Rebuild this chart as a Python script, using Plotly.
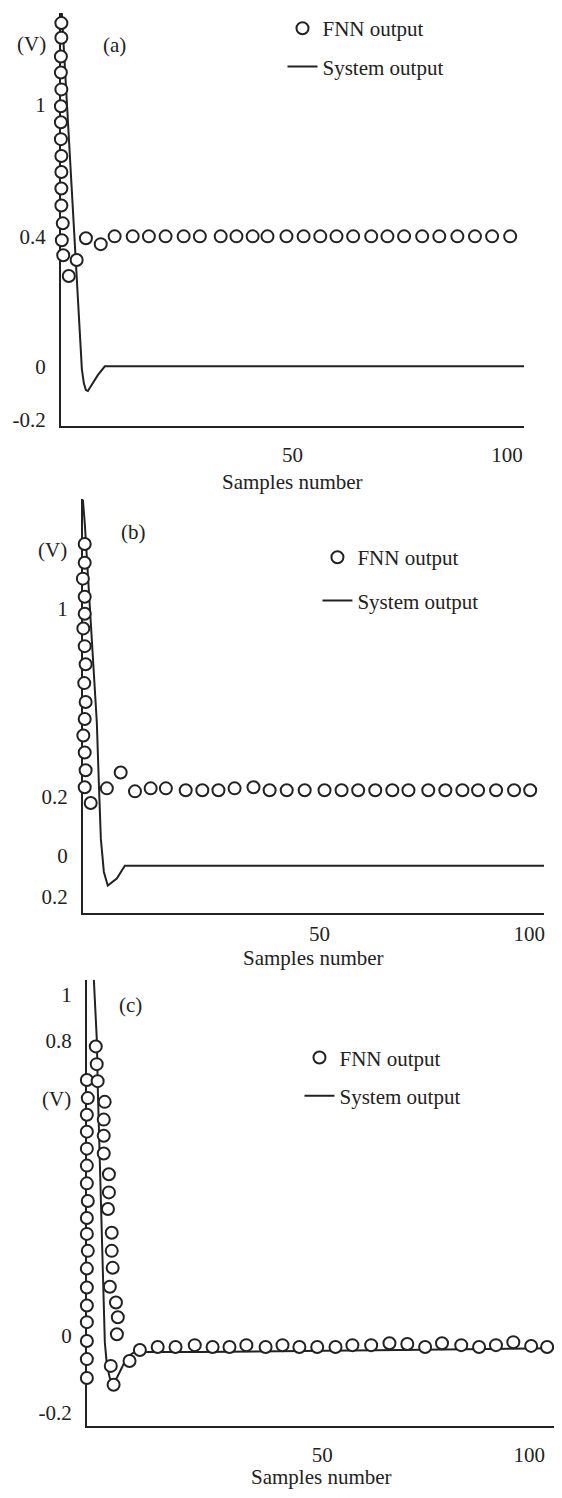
import plotly.graph_objects as go

# ---------------- data ----------------
# Panel (a)
a_fnn_x = [0.1, 0.1, 0, 0, 0.1, 0, 0, 0, 0.1, 0.1, 0.1, 0.1, 0.4, 0.2, 0.5,
           1.7, 3.4, 5.4, 8.6, 11.6,
           15.5, 19.0, 22.6, 26.5, 30.0, 34.5, 37.9, 41.4, 44.6, 48.7, 52.4, 56.0,
           59.5, 63.1, 67.0, 70.5, 74.1, 78.0, 81.7, 85.6, 89.4, 93.1, 97.0]
a_fnn_y = [1.056, 1.011, 0.953, 0.904, 0.852, 0.800, 0.751, 0.699, 0.647, 0.598,
           0.547, 0.495, 0.440, 0.388, 0.342,
           0.278, 0.327, 0.394, 0.376, 0.4,
           0.4, 0.4, 0.4, 0.4, 0.4, 0.4, 0.4, 0.4, 0.4, 0.4, 0.4, 0.4,
           0.4, 0.4, 0.4, 0.4, 0.4, 0.4, 0.4, 0.4, 0.4, 0.4, 0.4]
a_sys_x = [0.2, 4.53, 4.96, 5.39, 5.82, 6.47, 7.97, 9.48, 100]
a_sys_y = [1.087, -0.009, -0.052, -0.073, -0.076, -0.061, -0.027, 0.0, 0.0]
a_ytick_vals = [0.806, 0.4, 0.0, -0.165]
a_ytick_text = ["1", "0.4", "0", "-0.2"]
a_xtick_vals = [50, 96.3]
a_xtick_text = ["50", "100"]

# Panel (b)
b_fnn_x = [0.4, 0.4, 0, 0.4, 0.4, 0.1, 0.4, 0.6, 0.3, 0.6, 0.4, 0.1, 0.4, 0.6, 0.4,
           1.7, 5.2, 8.2, 11.3,
           14.7, 18.0, 22.3, 25.9, 29.4, 32.9, 37.0, 40.5, 44.2, 48.1, 52.4, 56.1,
           59.7, 63.4, 67.1, 70.6, 74.9, 78.6, 82.3, 85.7, 89.6, 93.5, 97.0, 100.4]
b_fnn_y = [0.853, 0.803, 0.761, 0.713, 0.668, 0.629, 0.582, 0.534, 0.484, 0.434,
           0.389, 0.345, 0.300, 0.253, 0.208,
           0.166, 0.205, 0.247, 0.197,
           0.205, 0.205, 0.2, 0.2, 0.2, 0.205, 0.208, 0.2, 0.2, 0.2, 0.2, 0.2,
           0.2, 0.2, 0.2, 0.2, 0.2, 0.2, 0.2, 0.2, 0.2, 0.2, 0.2, 0.2]
b_sys_x = [0, 0.43, 1.3, 2.16, 3.03, 3.46, 3.9, 4.55, 5.4, 7.36, 9.1, 100]
b_sys_y = [0.971, 0.905, 0.729, 0.553, 0.379, 0.221, 0.071, -0.016, -0.053, -0.034, 0.0, 0.0]
b_ytick_vals = [0.682, 0.182, 0.026, -0.082]
b_ytick_text = ["1", "0.2", "0", "0.2"]
b_xtick_vals = [51.3, 96.8]
b_xtick_text = ["50", "100"]

# Panel (c)
c_fnn_x = [0, 0.2, 0, 0, 0, 0, 0, 0.2, 0, 0, 0.2, 0, 0, 0, 0, 0, 0, 0,
           1.9, 2.1, 2.3, 3.8, 3.6, 3.6, 3.6, 4.7, 4.7, 4.5, 5.3, 5.3, 5.5, 4.9,
           6.2, 6.6, 6.4, 5.1, 5.7, 9.1, 11.3,
           15.1, 18.9, 23.0, 26.8, 30.4, 34.0, 38.1, 41.7, 45.3, 49.1, 53.0, 56.6,
           60.6, 64.5, 68.3, 72.1, 75.7, 79.8, 83.6, 87.2, 90.9, 94.7, 98.1]
c_fnn_y = [0.716, 0.668, 0.624, 0.579, 0.534, 0.489, 0.442, 0.395, 0.350, 0.308,
           0.263, 0.216, 0.166, 0.118, 0.074, 0.024, -0.024, -0.074,
           0.805, 0.758, 0.713, 0.658, 0.611, 0.568, 0.521, 0.466, 0.418, 0.374,
           0.311, 0.263, 0.218, 0.168, 0.126, 0.087, 0.042, -0.042, -0.092, -0.029, 0.0,
           0.008, 0.008, 0.013, 0.008, 0.008, 0.013, 0.008, 0.013, 0.008, 0.008, 0.008,
           0.013, 0.013, 0.018, 0.016, 0.008, 0.018, 0.013, 0.008, 0.013, 0.021, 0.011, 0.008]
c_sys_x = [1.49, 2.13, 2.34, 2.77, 3.19, 3.40, 3.83, 4.26, 4.89, 5.53, 6.38, 7.45,
           8.51, 10.21, 24.04, 66.6, 100]
c_sys_y = [0.982, 0.821, 0.689, 0.513, 0.337, 0.250, 0.021, -0.039, -0.074, -0.087,
           -0.074, -0.047, -0.018, -0.005, -0.005, 0.0, 0.005]
c_ytick_vals = [0.942, 0.821, 0.039, -0.166]
c_ytick_text = ["1", "0.8", "0", "-0.2"]
c_xtick_vals = [50.2, 94.3]
c_xtick_text = ["50", "100"]

panel_labels = ["(a)", "(b)", "(c)"]
series_names = ["FNN output", "System output"]
x_title = "Samples number"
y_unit = "(V)"

# ---------------- styling / layout ----------------
PAGE_OFF = 8            # default body margin of the html page
W, H = 562 - PAGE_OFF, 1498 - PAGE_OFF
INK = "#222222"
FONT = "Liberation Serif"
FS = 21


def px_x(p):
    return (p - PAGE_OFF) / W


def px_y(p):
    return 1 - (p - PAGE_OFF) / H


panels = [
    dict(fx=a_fnn_x, fy=a_fnn_y, sx=a_sys_x, sy=a_sys_y,
         ytv=a_ytick_vals, ytt=a_ytick_text, xtv=a_xtick_vals, xtt=a_xtick_text,
         xdom=(61, 525), ydom=(424, 8), yrange=(-0.1832, 1.087),
         vpos=(32, 39), lpos=(115, 40), title_y=480, xstand=9,
         legend=(283, 3, 8)),
    dict(fx=b_fnn_x, fy=b_fnn_y, sx=b_sys_x, sy=b_sys_y,
         ytv=b_ytick_vals, ytt=b_ytick_text, xtv=b_xtick_vals, xtt=b_xtick_text,
         xdom=(83, 545), ydom=(915, 498), yrange=(-0.1263, 0.9711),
         vpos=(53, 549), lpos=(134, 531), title_y=960, xstand=0,
         legend=(318, 536, 13)),
    dict(fx=c_fnn_x, fy=c_fnn_y, sx=c_sys_x, sy=c_sys_y,
         ytv=c_ytick_vals, ytt=c_ytick_text, xtv=c_xtick_vals, xtt=c_xtick_text,
         xdom=(87, 557), ydom=(1432, 982), yrange=(-0.2026, 0.9816),
         vpos=(57, 1102), lpos=(131, 1007), title_y=1483, xstand=8,
         legend=(300, 1040, 8)),
]

fig = go.Figure()
layout = dict(
    width=W, height=H, autosize=False,
    margin=dict(l=0, r=0, t=0, b=0),
    paper_bgcolor="white", plot_bgcolor="white",
    font=dict(family=FONT, size=FS, color=INK),
    annotations=[],
)

for i, p in enumerate(panels):
    n = "" if i == 0 else str(i + 1)
    xa, ya = "x" + n, "y" + n
    leg = "legend" + n
    fig.add_trace(go.Scatter(
        x=p["sx"], y=p["sy"], mode="lines", name=series_names[1],
        line=dict(color=INK, width=2), xaxis=xa, yaxis=ya,
        legend=leg, legendgroup="sys" + n, legendrank=2))
    fig.add_trace(go.Scatter(
        x=p["fx"], y=p["fy"], mode="markers", name=series_names[0],
        marker=dict(symbol="circle", size=12, color="white",
                    line=dict(color=INK, width=2)),
        cliponaxis=False, xaxis=xa, yaxis=ya,
        legend=leg, legendgroup="fnn" + n, legendrank=1))

    x0, x1 = p["xdom"]
    yb, yt = p["ydom"]
    layout["xaxis" + n] = dict(
        domain=[px_x(x0), px_x(x1)], range=[0, 100], anchor=ya,
        showline=True, linecolor=INK, linewidth=2, showgrid=False, zeroline=False,
        ticks="", tickvals=p["xtv"], ticktext=p["xtt"], ticklabelstandoff=p["xstand"],
        layer="below traces", tickfont=dict(family=FONT, size=FS, color=INK))
    layout["yaxis" + n] = dict(
        domain=[px_y(yb), px_y(yt)], range=list(p["yrange"]), anchor=xa,
        showline=True, linecolor=INK, linewidth=2, showgrid=False, zeroline=False,
        ticks="", tickvals=p["ytv"], ticktext=p["ytt"], ticklabelstandoff=9,
        layer="below traces", tickfont=dict(family=FONT, size=FS, color=INK))

    lx, ly, gap = p["legend"]
    layout[leg] = dict(
        x=px_x(lx), y=px_y(ly), xanchor="left", yanchor="top",
        xref="paper", yref="paper", bgcolor="rgba(0,0,0,0)", borderwidth=0,
        font=dict(family=FONT, size=FS, color=INK), tracegroupgap=gap,
        traceorder="grouped", itemsizing="trace")

    layout["annotations"] += [
        dict(text=y_unit, x=px_x(p["vpos"][0]), y=px_y(p["vpos"][1]),
             xref="paper", yref="paper", showarrow=False,
             xanchor="center", yanchor="middle", font=dict(size=FS)),
        dict(text=panel_labels[i], x=px_x(p["lpos"][0]), y=px_y(p["lpos"][1]),
             xref="paper", yref="paper", showarrow=False,
             xanchor="center", yanchor="middle", font=dict(size=FS)),
        dict(text=x_title, x=px_x((x0 + x1) / 2), y=px_y(p["title_y"]),
             xref="paper", yref="paper", showarrow=False,
             xanchor="center", yanchor="middle", font=dict(size=FS)),
    ]

fig.update_layout(**layout)
fig.write_html("out.html")
